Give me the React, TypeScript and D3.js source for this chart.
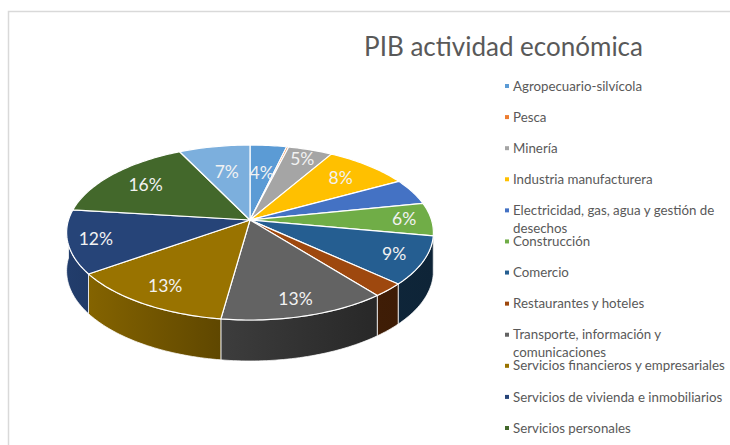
import React from "react";
import * as d3 from "d3";

const title = "PIB actividad económica";
const legendLines = [
  ["Agropecuario-silvícola"],
  ["Pesca"],
  ["Minería"],
  ["Industria manufacturera"],
  ["Electricidad, gas, agua y gestión de", "desechos"],
  ["Construcción"],
  ["Comercio"],
  ["Restaurantes y hoteles"],
  ["Transporte, información y", "comunicaciones"],
  ["Servicios financieros y empresariales"],
  ["Servicios de vivienda e inmobiliarios"],
  ["Servicios personales"],
];
// The 13th slice has no visible legend row: the legend is cut off in the picture.
const shares = [3.7, 0.2, 4.5, 8.6, 4.8, 6.1, 8.9, 2.5, 12.9, 13.0, 11.7, 15.9, 7.2];
const shareLabels = ["4%", "", "5%", "8%", "", "6%", "9%", "", "13%", "13%", "12%", "16%", "7%"];
const sliceColors = [
  "#5b9bd5", "#ed7d31", "#a5a5a5", "#ffc000", "#4472c4", "#70ad47", "#255e91",
  "#9e480e", "#636363", "#997300", "#264478", "#43682b", "#7cafdd",
];
const labelReach = [0.6, 0, 0.85, 0.75, 0, 0.85, 0.84, 0, 0.84, 0.81, 0.85, 0.75, 0.62];

const WIDTH = 730;
const HEIGHT = 445;
const CX = 250;
const CY = 220;
const RX = 181.5;
const RY = 85.7;
const K = 0.143;
const FONT = "Lato, 'Open Sans', sans-serif";

// Perspective projection of a point on the pie's disc (angle clockwise from top).
const project = (angle: number, r = 1): [number, number] => {
  const u = r * Math.sin(angle);
  const v = -r * Math.cos(angle);
  const w = 1 - K * v;
  return [CX + (RX * u) / w, CY + (RY * v) / w];
};

// The wall looks taller at the front of the pie, as it is nearer to the viewer.
const wallDepth = (angle: number) => 38 - 3 * Math.cos(angle);

const arcPoints = (a0: number, a1: number): number[] => {
  const n = Math.max(2, Math.ceil((a1 - a0) / 0.02));
  return d3.range(n + 1).map((i) => a0 + ((a1 - a0) * i) / n);
};

const line = d3.line<[number, number]>().x((d) => d[0]).y((d) => d[1]);
const shade = d3.scaleLinear().domain([67, 221, 376, 433]).range([0.9, 0.62, 0.4, 0.38]);
const legendY = d3.scaleLinear().domain([0, legendLines.length - 1]).range([86, 428]);
const slices = d3.pie<number>().sort(null).value((d) => d)(shares);

const gradientStops = [67, 150, 221, 300, 376, 433];
const PI = Math.PI;

export default function App() {
  // Side wall: only the front half (angles between 90° and 270°) is visible.
  const sides = slices
    .map((s, i) => {
      const a0 = Math.max(s.startAngle, PI / 2);
      const a1 = Math.min(s.endAngle, (3 * PI) / 2);
      if (a1 <= a0) return null;
      const angles = arcPoints(a0, a1);
      const top = angles.map((a) => project(a));
      const bottom = angles
        .map((a) => {
          const [x, y] = project(a);
          return [x, y + wallDepth(a)] as [number, number];
        })
        .reverse();
      return { i, d: line([...top, ...bottom])! + "Z" };
    })
    .filter(Boolean) as { i: number; d: string }[];

  return (
    <svg
      width={WIDTH}
      height={HEIGHT}
      viewBox={`0 0 ${WIDTH} ${HEIGHT}`}
      style={{ position: "fixed", left: 0, top: 0, display: "block", background: "#fff" }}
    >
      <defs>
        {sliceColors.map((c, i) => (
          <linearGradient key={i} id={`side${i}`} gradientUnits="userSpaceOnUse" x1={67} x2={433} y1={0} y2={0}>
            {gradientStops.map((x) => {
              const col = d3.rgb(c);
              const f = shade(x);
              return (
                <stop
                  key={x}
                  offset={(x - 67) / (433 - 67)}
                  stopColor={d3.rgb(col.r * f, col.g * f, col.b * f).formatHex()}
                />
              );
            })}
          </linearGradient>
        ))}
      </defs>

      <path d="M8.5 445V11.5H730" fill="none" stroke="#d9d9d9" strokeWidth={1.5} />

      <text x={503.5} y={56} textAnchor="middle" fontFamily={FONT} fontSize={26} fill="#595959">
        {title}
      </text>

      {sides.map(({ i, d }) => (
        <path key={i} d={d} fill={`url(#side${i})`} stroke="#fff" strokeOpacity={0.75} strokeWidth={1} />
      ))}

      {slices.map((s, i) => {
        const pts: [number, number][] = [[CX, CY], ...arcPoints(s.startAngle, s.endAngle).map((a) => project(a))];
        return <path key={i} d={line(pts)! + "Z"} fill={sliceColors[i]} stroke="#fff" strokeWidth={1.2} strokeLinejoin="round" />;
      })}

      {slices.map((s, i) => {
        if (!shareLabels[i]) return null;
        const [x, y] = project((s.startAngle + s.endAngle) / 2, labelReach[i]);
        return (
          <text key={i} x={x} y={y} dy="0.35em" textAnchor="middle" fontFamily={FONT} fontSize={17.5} fill="#f2f2f2">
            {shareLabels[i]}
          </text>
        );
      })}

      {legendLines.map((lines, i) => (
        <g key={i}>
          <rect x={505} y={legendY(i) - 2} width={4} height={4} fill={sliceColors[i]} />
          {lines.map((t, j) => (
            <text key={j} x={513} y={legendY(i) + j * 17.5} dy="0.35em" fontFamily={FONT} fontSize={13.3} fill="#595959">
              {t}
            </text>
          ))}
        </g>
      ))}
    </svg>
  );
}
